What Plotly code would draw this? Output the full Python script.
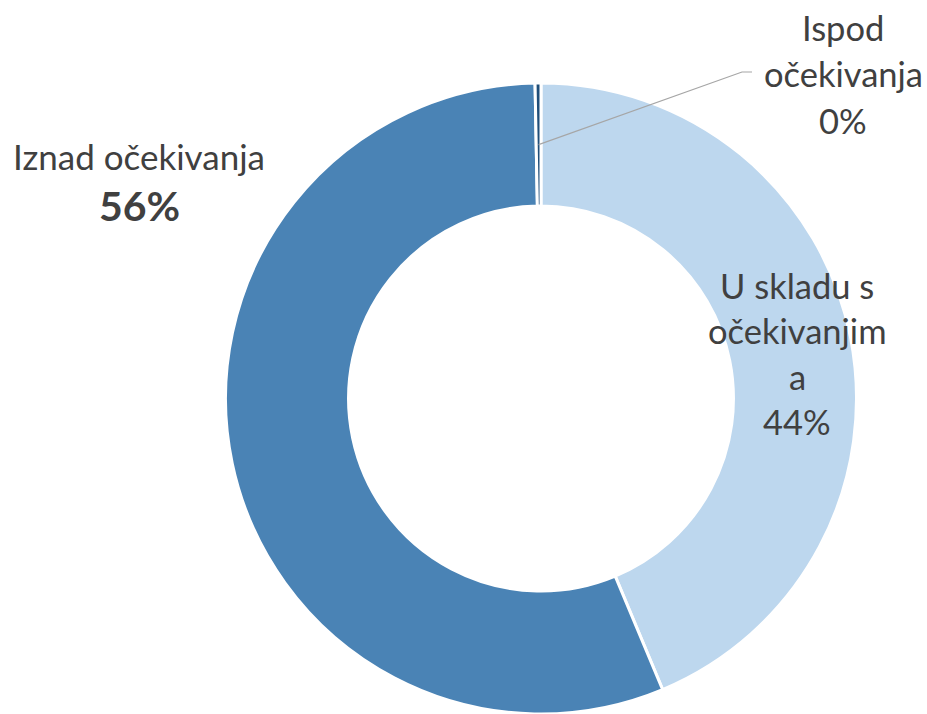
import math
import plotly.graph_objects as go

# Survey outcome shares (percent), clockwise from 12 o'clock
categories = ["U skladu s očekivanjima", "Iznad očekivanja", "Ispod očekivanja"]
values = [43.7, 56.0, 0.3]
colors = ["#BDD7EE", "#4A83B5", "#1F4E79"]

W, H = 927, 714
R = 316            # outer radius in px
HOLE = 0.61
CX, CY = 541, 399  # pie centre in px (from top-left)

TEXT = "#404040"
FONT = "Lato"
SIZE = 34.5

fig = go.Figure(
    go.Pie(
        labels=categories,
        values=values,
        sort=False,
        direction="clockwise",
        rotation=0,
        hole=HOLE,
        marker=dict(colors=colors, line=dict(color="white", width=3)),
        textinfo="none",
        hoverinfo="label+percent",
        showlegend=False,
        domain=dict(
            x=[(CX - R) / W, (CX + R) / W],
            y=[max(0, (H - CY - R) / H), (H - CY + R) / H],
        ),
    )
)


def px(x, y):
    return x / W, 1 - y / H


def pct(v):
    return f"{round(v / sum(values) * 100):.0f}%"


annotations = []

# Outside label: "Iznad očekivanja" with bold percentage
x0, y0 = px(139, 156)
annotations.append(dict(x=x0, y=y0, text="Iznad očekivanja", showarrow=False,
                        font=dict(size=SIZE + 0.5, color=TEXT, family=FONT),
                        xanchor="center", yanchor="middle"))
x0, y0 = px(139, 206)
annotations.append(dict(x=x0, y=y0, text=f"<b>{pct(values[1])}</b>", showarrow=False,
                        font=dict(size=41, color=TEXT, family=FONT),
                        xanchor="center", yanchor="middle"))

# Label inside the light ring segment
for i, line in enumerate(["U skladu s", "očekivanjim", "a", pct(values[0])]):
    x0, y0 = px(797, 285 + i * 45.5)
    annotations.append(dict(x=x0, y=y0, text=line, showarrow=False,
                            font=dict(size=SIZE, color=TEXT, family=FONT),
                            xanchor="center", yanchor="middle"))

# Label for the tiny slice, top right
for i, line in enumerate(["Ispod", "očekivanja", pct(values[2])]):
    x0, y0 = px(843, 28 + i * 46)
    annotations.append(dict(x=x0, y=y0, text=line, showarrow=False,
                            font=dict(size=SIZE, color=TEXT, family=FONT),
                            xanchor="center", yanchor="middle"))

# Leader line from the middle of the tiny slice to its label
total = sum(values)
start = sum(values[:2]) / total * 360
mid = start + values[2] / total * 360 / 2
rm = R * (1 + HOLE) / 2
sx = CX + rm * math.sin(math.radians(mid))
sy = CY - rm * math.cos(math.radians(mid))
ax, ay = px(sx, sy)
bx, by = px(742, 72)
cx_, cy_ = px(752, 72)
fig.add_shape(type="path", xref="paper", yref="paper",
              path=f"M {ax} {ay} L {bx} {by} L {cx_} {cy_}",
              line=dict(color="#A6A6A6", width=1.2))

fig.update_layout(
    width=W, height=H,
    margin=dict(l=0, r=0, t=0, b=0),
    paper_bgcolor="white",
    plot_bgcolor="white",
    annotations=annotations,
)

fig.write_html("out.html")
